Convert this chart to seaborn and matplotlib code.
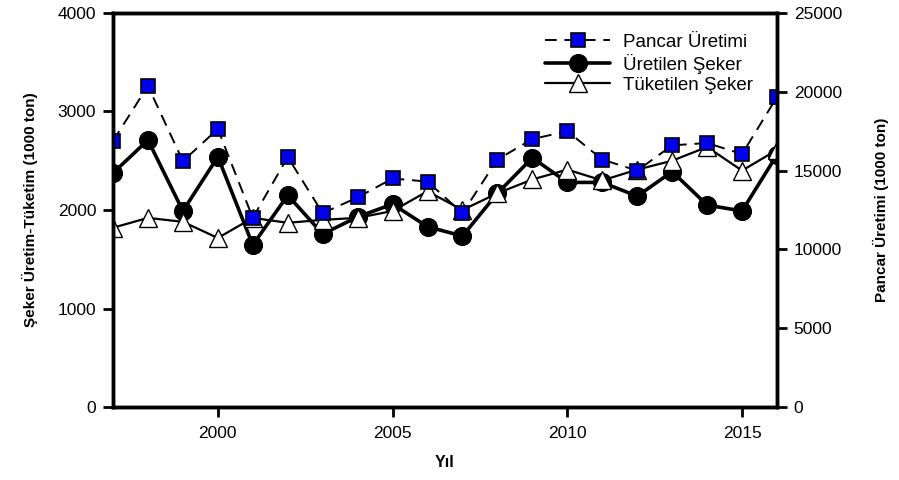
import matplotlib
matplotlib.use("Agg")
import matplotlib.pyplot as plt
import seaborn as sns
import pandas as pd
import numpy as np

years = list(range(1997, 2017))
pancar = [16880, 20370, 15600, 17640, 12000, 15860, 12300, 13300, 14500, 14300,
          12300, 15700, 17000, 17500, 15700, 15000, 16600, 16750, 16050, 19670]
uretilen = [2375, 2710, 1990, 2540, 1645, 2150, 1756, 1930, 2060, 1830,
            1736, 2170, 2530, 2280, 2280, 2140, 2390, 2050, 1990, 2560]
tuketilen = [1820, 1920, 1880, 1716, 1920, 1870, 1900, 1920, 1990, 2190,
             2000, 2170, 2310, 2410, 2300, 2410, 2500, 2640, 2400, 2610]

df = pd.DataFrame({"yil": years, "pancar": pancar,
                   "uretilen": uretilen, "tuketilen": tuketilen})

sns.set_style("ticks")
plt.rcParams.update({
    "font.family": ["Liberation Sans", "DejaVu Sans"],
    "text.color": "black",
    "axes.labelcolor": "black",
    "xtick.color": "black",
    "ytick.color": "black",
    "xtick.labelsize": 12.5,
    "ytick.labelsize": 12.5,
})

fig = plt.figure(figsize=(8.99, 4.8), dpi=100)
ax = fig.add_axes([0.1257, 0.152, 0.7386, 0.821])
ax2 = ax.twinx()

sns.lineplot(data=df, x="yil", y="uretilen", ax=ax, color="black", lw=2.6,
             marker="o", markersize=13, markerfacecolor="black",
             markeredgecolor="black", label="Üretilen Şeker", legend=False)
sns.lineplot(data=df, x="yil", y="tuketilen", ax=ax, color="black", lw=1.6,
             marker="^", markersize=13, markerfacecolor="white",
             markeredgecolor="black", markeredgewidth=1, label="Tüketilen Şeker",
             legend=False)
sns.lineplot(data=df, x="yil", y="pancar", ax=ax2, color="black", lw=1.4,
             linestyle=(0, (6, 4)), marker="s", markersize=10,
             markerfacecolor="#0000ee", markeredgecolor="black",
             markeredgewidth=1.2, label="Pancar Üretimi", legend=False)

ax.set_xlim(1997, 2016)
ax.set_ylim(0, 4000)
ax2.set_ylim(0, 25000)
ax.set_xticks([2000, 2005, 2010, 2015])
ax.set_yticks([0, 1000, 2000, 3000, 4000])
ax2.set_yticks([0, 5000, 10000, 15000, 20000, 25000])

for a in (ax, ax2):
    for s in a.spines.values():
        s.set_visible(True)
        s.set_linewidth(2.5)
        s.set_color("black")

# tick marks: out, black
ax.tick_params(axis="x", which="major", length=7, width=2, color="black",
               direction="out", bottom=True, pad=7)
ax.tick_params(axis="y", which="major", length=7, width=2, color="black",
               direction="out", left=True, pad=5)
ax2.tick_params(axis="y", which="major", length=7, width=2, color="black",
                direction="out", right=True, pad=5)

ax.set_xlabel("Yıl", fontsize=11.5, fontweight="bold", labelpad=10)
ax.set_ylabel("Şeker Üretim-Tüketim (1000 ton)", fontsize=11,
              fontweight="bold", labelpad=14)
ax2.set_ylabel("Pancar Üretimi (1000 ton)", fontsize=11,
               fontweight="bold", labelpad=22)

h1, l1 = ax.get_legend_handles_labels()
h2, l2 = ax2.get_legend_handles_labels()
ax2.legend(h2 + h1, l2 + l1, loc="upper right", bbox_to_anchor=(0.99, 0.99),
           frameon=False, fontsize=13.5, handlelength=3.5, labelspacing=0.15,
           handletextpad=0.7)

fig.savefig("out.png", dpi=100)

# check that the x tick at 2000 was drawn below the axis
fig.canvas.draw()
img = np.asarray(fig.canvas.buffer_rgba())
x, y = ax.transData.transform((2000, 0))
H = img.shape[0]
patch = img[int(H - y) + 3: int(H - y) + 8, int(round(x)) - 1: int(round(x)) + 2, :3]
if patch.min() > 100:
    t = ax.xaxis.get_major_ticks()[0]
    raise SystemExit(str([int(patch.min()), t.get_visible(), t.tick1line.get_visible(),
                          t.tick1line.get_markersize(), t.tick1line.get_marker(),
                          t.tick1line.get_color(), t.tick1line.get_zorder()]))
